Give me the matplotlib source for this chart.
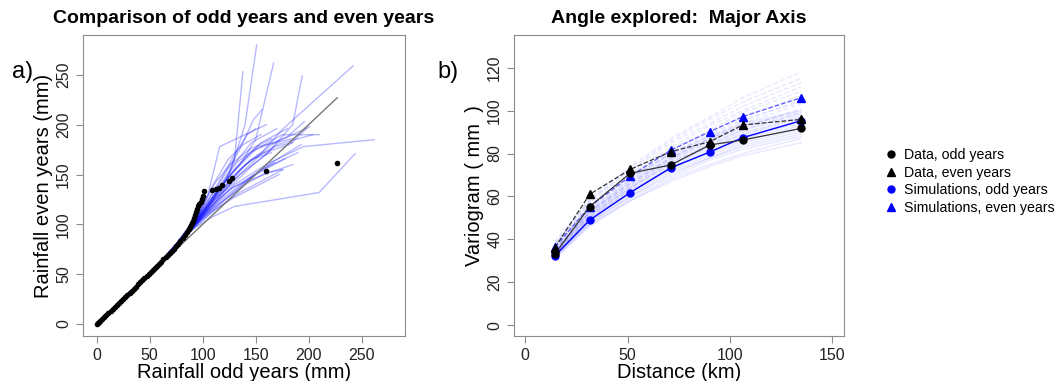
import numpy as np
import matplotlib.pyplot as plt
from matplotlib.lines import Line2D

# ---- panel a: QQ data (odd vs even years) ----
qq_odd = [0, 1, 2, 3, 5, 7, 9, 11, 13, 15, 17, 19, 21, 23, 25, 27, 29, 31, 33, 35,
          37, 39, 41, 43, 45, 47, 49, 51, 53, 55, 57, 59, 61, 63, 65, 67, 69, 71, 73,
          75, 77, 79, 81, 83, 85, 87, 88, 89, 90, 91, 92, 93, 94, 95, 96, 97, 98, 99,
          100, 101, 109, 113, 115, 118, 125, 128, 160, 227]
qq_even = [0, 1, 2, 3, 5, 7, 9, 11, 13, 15, 17, 19, 21, 23, 25, 27, 29.5, 31.5, 33.5,
           35.5, 37.5, 40, 42, 44, 46, 48, 50, 52, 54, 56.5, 58.5, 60.5, 62.5, 65, 67,
           69, 71, 73, 75.5, 78, 80, 83, 86, 89, 92, 95, 97, 99, 101, 103, 106, 109,
           112, 115, 118, 120, 122, 125, 128, 133, 134, 135, 136, 140, 144, 147, 154, 162]
one_to_one = [0, 227]

# shared lower part of the simulated QQ curves
sim_base = [(0, 0), (20, 21), (40, 41), (60, 62)]
sim_tails = [
    [(75, 78), (95, 100), (110, 125), (125, 150), (140, 200), (151, 280)],
    [(75, 79), (92, 102), (108, 122), (122, 145), (130, 165), (138, 253)],
    [(75, 80), (95, 105), (115, 135), (135, 160), (150, 185), (167, 262)],
    [(74, 77), (92, 100), (112, 125), (135, 150), (160, 170), (185, 200), (194, 249)],
    [(73, 76), (90, 98), (110, 120), (130, 145), (150, 165), (175, 195), (242, 259)],
    [(72, 75), (90, 97), (110, 118), (130, 140), (160, 160), (195, 178), (262, 185)],
    [(70, 73), (90, 95), (110, 108), (130, 118), (170, 125), (210, 132), (244, 171)],
    [(75, 80), (95, 108), (115, 140), (135, 175), (148, 205), (156, 215)],
    [(74, 78), (95, 104), (115, 130), (140, 160), (170, 180), (204, 190)],
    [(74, 77), (93, 100), (113, 128), (135, 155), (165, 180), (201, 198)],
    [(73, 76), (92, 98), (112, 120), (138, 142), (165, 162), (193, 180)],
    [(72, 75), (92, 96), (112, 115), (135, 132), (160, 146), (176, 155)],
    [(76, 82), (95, 108), (105, 130), (116, 178), (140, 190), (160, 200)],
    [(75, 79), (92, 102), (110, 126), (125, 148), (145, 172), (175, 190), (210, 190)],
    [(74, 78), (93, 103), (110, 128), (128, 152), (150, 175), (180, 188), (196, 203)],
    [(73, 77), (91, 99), (108, 118), (125, 135), (150, 150), (178, 166)],
    [(75, 80), (94, 106), (112, 132), (128, 158), (146, 182), (170, 196)],
    [(72, 75), (90, 96), (108, 112), (128, 126), (150, 138), (172, 150)],
    [(74, 78), (94, 104), (114, 134), (132, 162), (152, 178), (185, 186)],
    [(73, 76), (91, 98), (110, 117), (130, 132), (155, 155), (190, 172)],
    [(76, 81), (96, 110), (110, 140), (124, 165), (138, 180), (155, 190)],
    [(75, 79), (93, 102), (110, 124), (128, 140), (148, 160), (168, 178), (185, 182)],
    [(74, 77), (92, 99), (110, 120), (128, 145), (145, 165), (165, 172)],
    [(73, 76), (90, 97), (106, 112), (122, 125), (140, 140), (160, 152), (175, 155)],
    [(75, 80), (95, 107), (113, 138), (130, 170), (142, 190), (150, 196)],
    [(74, 78), (94, 103), (112, 128), (130, 150), (152, 170), (182, 180), (198, 196)],
    [(72, 75), (91, 97), (109, 114), (126, 130), (146, 148), (168, 162)],
    [(75, 79), (94, 104), (112, 130), (132, 158), (155, 182), (180, 196)],
    [(76, 82), (97, 112), (112, 142), (126, 160), (144, 175), (165, 186)],
    [(73, 77), (92, 100), (111, 122), (130, 138), (158, 150), (185, 160)],
]

# ---- panel b: variograms ----
dist = [14.5, 31.5, 51.3, 71.2, 90.2, 106.3, 134.8]
data_odd = [33.2, 55.3, 70.8, 74.7, 84.0, 86.3, 91.7]
data_even = [36.2, 61.0, 72.6, 80.9, 85.5, 93.3, 95.9]
sim_odd_mean = [32.4, 49.0, 61.8, 73.4, 80.7, 87.4, 95.3]
sim_even_mean = [36.6, 55.3, 69.5, 81.6, 90.2, 97.2, 106.0]

sim_odd_runs = [
    [31, 46, 58, 68, 75, 80, 87],
    [31, 47, 59, 69, 77, 82, 88],
    [32, 48, 60, 70, 78, 83, 89],
    [32, 48, 60, 71, 78, 84, 90],
    [32, 49, 61, 72, 79, 85, 91],
    [33, 49, 62, 73, 80, 86, 92],
    [33, 50, 62, 73, 81, 87, 93],
    [33, 50, 63, 74, 82, 88, 94],
    [34, 51, 64, 75, 83, 89, 95],
    [34, 51, 64, 76, 84, 90, 96],
    [34, 52, 65, 77, 85, 91, 97],
    [35, 53, 66, 78, 86, 92, 98],
    [35, 53, 67, 79, 87, 93, 99],
    [36, 54, 68, 80, 88, 94, 100],
    [32, 47, 58, 67, 74, 79, 85],
]
sim_even_runs = [
    [33, 50, 63, 73, 81, 87, 95],
    [34, 51, 64, 75, 83, 89, 97],
    [34, 52, 65, 76, 84, 91, 99],
    [35, 53, 66, 77, 86, 92, 101],
    [35, 53, 67, 78, 87, 94, 103],
    [36, 54, 68, 80, 88, 95, 105],
    [36, 55, 69, 81, 90, 97, 107],
    [37, 56, 70, 82, 91, 99, 109],
    [37, 57, 71, 83, 93, 100, 111],
    [38, 58, 72, 85, 94, 102, 113],
    [38, 58, 73, 86, 96, 104, 115],
    [39, 59, 74, 87, 97, 106, 118],
    [35, 52, 66, 78, 87, 93, 100],
    [36, 55, 69, 80, 89, 96, 104],
]

SANS = ['Liberation Sans', 'DejaVu Sans']
GRAY = '#8c8c8c'
plt.rcParams['font.family'] = SANS


def style_axes(ax):
    for s in ax.spines.values():
        s.set_color(GRAY)
    ax.tick_params(colors=GRAY, labelcolor='#222222', length=5, labelsize=11.5)
    for lab in ax.get_yticklabels():
        lab.set_rotation(90)
        lab.set_va('center')


fig = plt.figure(figsize=(10.61, 3.81), dpi=100)

# panel a
ax1 = fig.add_axes([0.0782, 0.1181, 0.3035, 0.79])
for tail in sim_tails:
    pts = np.array(sim_base + tail)
    ax1.plot(pts[:, 0], pts[:, 1], color='blue', alpha=0.28, lw=1)
ax1.plot(one_to_one, one_to_one, color='#777777', lw=1)
ax1.plot(qq_odd, qq_even, 'o', color='black', ms=3)
ax1.set_xlim(-13, 291)
ax1.set_ylim(-12, 290)
ax1.set_xticks([0, 50, 100, 150, 200, 250])
ax1.set_yticks([0, 50, 100, 150, 200, 250])
style_axes(ax1)
ax1.set_xlabel('Rainfall odd years (mm)', fontsize=14.5, labelpad=0)
ax1.set_ylabel('Rainfall even years (mm)', fontsize=14.5, labelpad=2)
ax1.set_title('Comparison of odd years and even years', fontweight='bold',
              fontsize=14, pad=9)
fig.text(0.011, 0.795, 'a)', fontsize=17)

# panel b
ax2 = fig.add_axes([0.4844, 0.1181, 0.3110, 0.79])
for run in sim_odd_runs:
    ax2.plot(dist, run, color='blue', alpha=0.09, lw=1)
for run in sim_even_runs:
    ax2.plot(dist, run, color='blue', alpha=0.09, lw=1, ls='--')
ax2.plot(dist, sim_odd_mean, color='blue', lw=1, marker='o', ms=5)
ax2.plot(dist, sim_even_mean, color='#5a5aff', lw=0.9, ls='--', marker='^', ms=6,
         mfc='blue', mec='blue')
ax2.plot(dist, data_odd, color='#333333', lw=0.9, marker='o', ms=5,
         mfc='black', mec='black')
ax2.plot(dist, data_even, color='#333333', lw=0.9, ls='--', marker='^', ms=6,
         mfc='black', mec='black')
ax2.set_xlim(-5.5, 155.7)
ax2.set_ylim(-5, 135.2)
ax2.set_xticks([0, 50, 100, 150])
ax2.set_yticks([0, 20, 40, 60, 80, 100, 120])
style_axes(ax2)
ax2.set_xlabel('Distance (km)', fontsize=14.5, labelpad=0)
ax2.set_ylabel('Variogram ( mm  )', fontsize=14.5, labelpad=2)
ax2.set_title('Angle explored:  Major Axis', fontweight='bold', fontsize=14,
              pad=9)
fig.text(0.412, 0.795, 'b)', fontsize=17)

handles = [
    Line2D([], [], ls='none', marker='o', color='black', ms=5),
    Line2D([], [], ls='none', marker='^', color='black', ms=6),
    Line2D([], [], ls='none', marker='o', color='blue', ms=5),
    Line2D([], [], ls='none', marker='^', color='blue', ms=6),
]
labels = ['Data, odd years', 'Data, even years',
          'Simulations, odd years', 'Simulations, even years']
fig.legend(handles, labels, loc='upper left', bbox_to_anchor=(0.82, 0.645),
           frameon=False, prop={'size': 10.2},
           handletextpad=0.3, labelspacing=0.25, handlelength=1.2)

fig.savefig('out.png', dpi=100)
